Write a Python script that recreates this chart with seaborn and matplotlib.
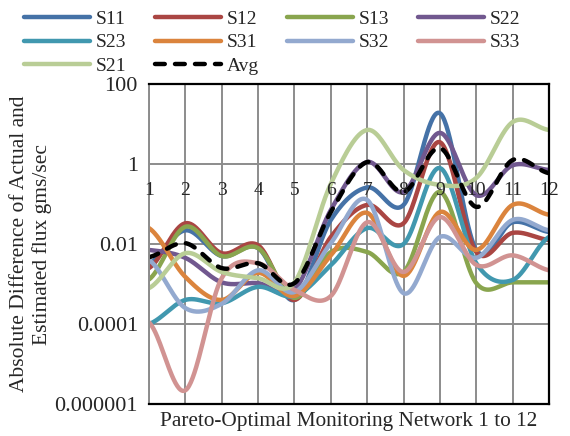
import numpy as np
import matplotlib
matplotlib.use("Agg")
import matplotlib.pyplot as plt
import seaborn as sns

# monitoring networks 1..12 and the absolute flux difference (gms/sec) per source
networks = list(range(1, 13))
network_labels = [str(n) for n in networks]

s11 = [3.2e-3, 2.2e-2, 5.0e-3, 7.9e-3, 4.0e-4, 4.0e-2, 0.26, 0.095, 18.6, 7.1e-3, 0.035, 0.020]
s12 = [2.5e-3, 3.3e-2, 5.9e-3, 9.3e-3, 4.0e-4, 1.5e-2, 0.095, 0.033, 3.5, 6.3e-3, 0.019, 0.0126]
s13 = [1.3e-3, 2.7e-2, 5.0e-3, 7.9e-3, 4.5e-4, 6.3e-3, 6.3e-3, 2.0e-3, 0.20, 1.05e-3, 1.1e-3, 1.1e-3]
s22 = [7.1e-3, 4.5e-3, 1.1e-3, 1.05e-3, 7.1e-4, 0.071, 1.12, 0.20, 6.0, 0.166, 0.93, 0.71]
s23 = [1.0e-4, 4.0e-4, 3.3e-4, 8.5e-4, 5.0e-4, 2.95e-3, 0.025, 0.010, 0.79, 3.3e-3, 1.26e-3, 0.015]
s31 = [0.025, 1.5e-3, 4.0e-4, 1.9e-3, 5.0e-4, 5.2e-3, 0.060, 1.6e-3, 0.063, 7.1e-3, 0.095, 0.054]
s32 = [4.0e-3, 2.5e-4, 3.2e-4, 2.2e-3, 6.3e-4, 0.0105, 0.126, 5.9e-4, 0.015, 4.5e-3, 0.040, 0.022]
s33 = [1.1e-4, 2.2e-6, 1.4e-3, 3.3e-3, 7.1e-4, 5.0e-4, 0.035, 2.0e-3, 0.047, 3.0e-3, 5.2e-3, 2.2e-3]
s21 = [7.9e-4, 5.9e-3, 2.0e-3, 1.4e-3, 1.1e-3, 0.32, 7.1, 0.71, 0.30, 0.45, 11.2, 7.1]
avg = [4.7e-3, 0.0105, 2.5e-3, 3.3e-3, 1.05e-3, 0.063, 1.12, 0.20, 2.5, 0.085, 1.26, 0.59]

y_ticks = [1e-6, 1e-4, 1e-2, 1, 100]
y_tick_labels = ["0.000001", "0.0001", "0.01", "1", "100"]

series = [
    ("S11", s11, "#4572A7"),
    ("S12", s12, "#AA4643"),
    ("S13", s13, "#89A54E"),
    ("S22", s22, "#71588F"),
    ("S23", s23, "#4198AF"),
    ("S31", s31, "#DB843D"),
    ("S32", s32, "#93A9CF"),
    ("S33", s33, "#D19392"),
    ("S21", s21, "#B9CD96"),
]


def smooth_log(values, steps=40):
    # Excel-like smoothed line: cubic Hermite (Catmull-Rom) through log10 values
    ly = np.log10(values)
    n = len(ly)
    tang = np.empty(n)
    tang[1:-1] = (ly[2:] - ly[:-2]) / 2
    tang[0] = (ly[1] - ly[0]) / 2
    tang[-1] = (ly[-1] - ly[-2]) / 2
    t = np.linspace(0, 1, steps, endpoint=False)
    h00 = 2 * t**3 - 3 * t**2 + 1
    h10 = t**3 - 2 * t**2 + t
    h01 = -2 * t**3 + 3 * t**2
    h11 = t**3 - t**2
    xs, ys = [], []
    for i in range(n - 1):
        xs.append(networks[i] + t * (networks[i + 1] - networks[i]))
        ys.append(h00 * ly[i] + h10 * tang[i] + h01 * ly[i + 1] + h11 * tang[i + 1])
    xs.append([networks[-1]])
    ys.append([ly[-1]])
    return np.concatenate(xs), 10 ** np.concatenate(ys)


sns.set_style("white")
plt.rcParams["font.family"] = ["Liberation Serif", "DejaVu Serif"]

fig = plt.figure(figsize=(5.7, 4.36), dpi=100)
ax = fig.add_axes([0.2614, 0.0734, 0.7018, 0.7339])

for name, vals, color in series:
    sx, sy = smooth_log(vals)
    sns.lineplot(x=sx, y=sy, ax=ax, color=color, lw=3.2, label=name,
                 sort=False, estimator=None, solid_capstyle="round")

sx, sy = smooth_log(avg)
sns.lineplot(x=sx, y=sy, ax=ax, color="black", lw=3.2, label="Avg",
             sort=False, estimator=None, linestyle=(0, (2.2, 2.3)),
             dash_capstyle="round")

ax.set_yscale("log")
ax.set_ylim(1e-6, 100)
ax.set_xlim(1, 12)
ax.set_yticks(y_ticks)
ax.set_yticklabels(y_tick_labels)
ax.minorticks_off()
ax.set_xticks(networks)
ax.set_xticklabels([])
ax.tick_params(axis="both", length=0)
ax.tick_params(axis="y", labelsize=16, pad=8)
ax.grid(True, color="#8c8c8c", lw=1.4)
ax.set_axisbelow(True)

# category labels sit on the y = 1 crossing line, as in the original
for n, lab in zip(networks, network_labels):
    ax.annotate(lab, xy=(n, 1), xytext=(0, -18), textcoords="offset pixels",
                ha="center", va="top", fontsize=14)

for side in ["top", "right", "bottom"]:
    ax.spines[side].set_color("black")
    ax.spines[side].set_linewidth(1.6)
ax.spines["left"].set_color("#8c8c8c")
ax.spines["left"].set_linewidth(1.4)

ax.set_xlabel("Pareto-Optimal Monitoring Network 1 to 12", fontsize=15.3, labelpad=2)
ax.set_ylabel("Absolute Difference of Actual and\nEstimated flux gms/sec", fontsize=15.5, labelpad=1.5)

handles, labels = ax.get_legend_handles_labels()
if ax.get_legend() is not None:
    ax.get_legend().remove()
order = ["S11", "S23", "S21", "S12", "S31", "Avg", "S13", "S32", "S22", "S33"]
lookup = dict(zip(labels, handles))
fig.legend([lookup[o] for o in order], order, ncol=4, loc="upper left",
           bbox_to_anchor=(0.035, 0.985), frameon=False, fontsize=14,
           handlelength=3.4, handletextpad=0.3, columnspacing=1.45,
           labelspacing=0.3, borderaxespad=0.0, borderpad=0.2)

fig.savefig("out.png", dpi=100)
